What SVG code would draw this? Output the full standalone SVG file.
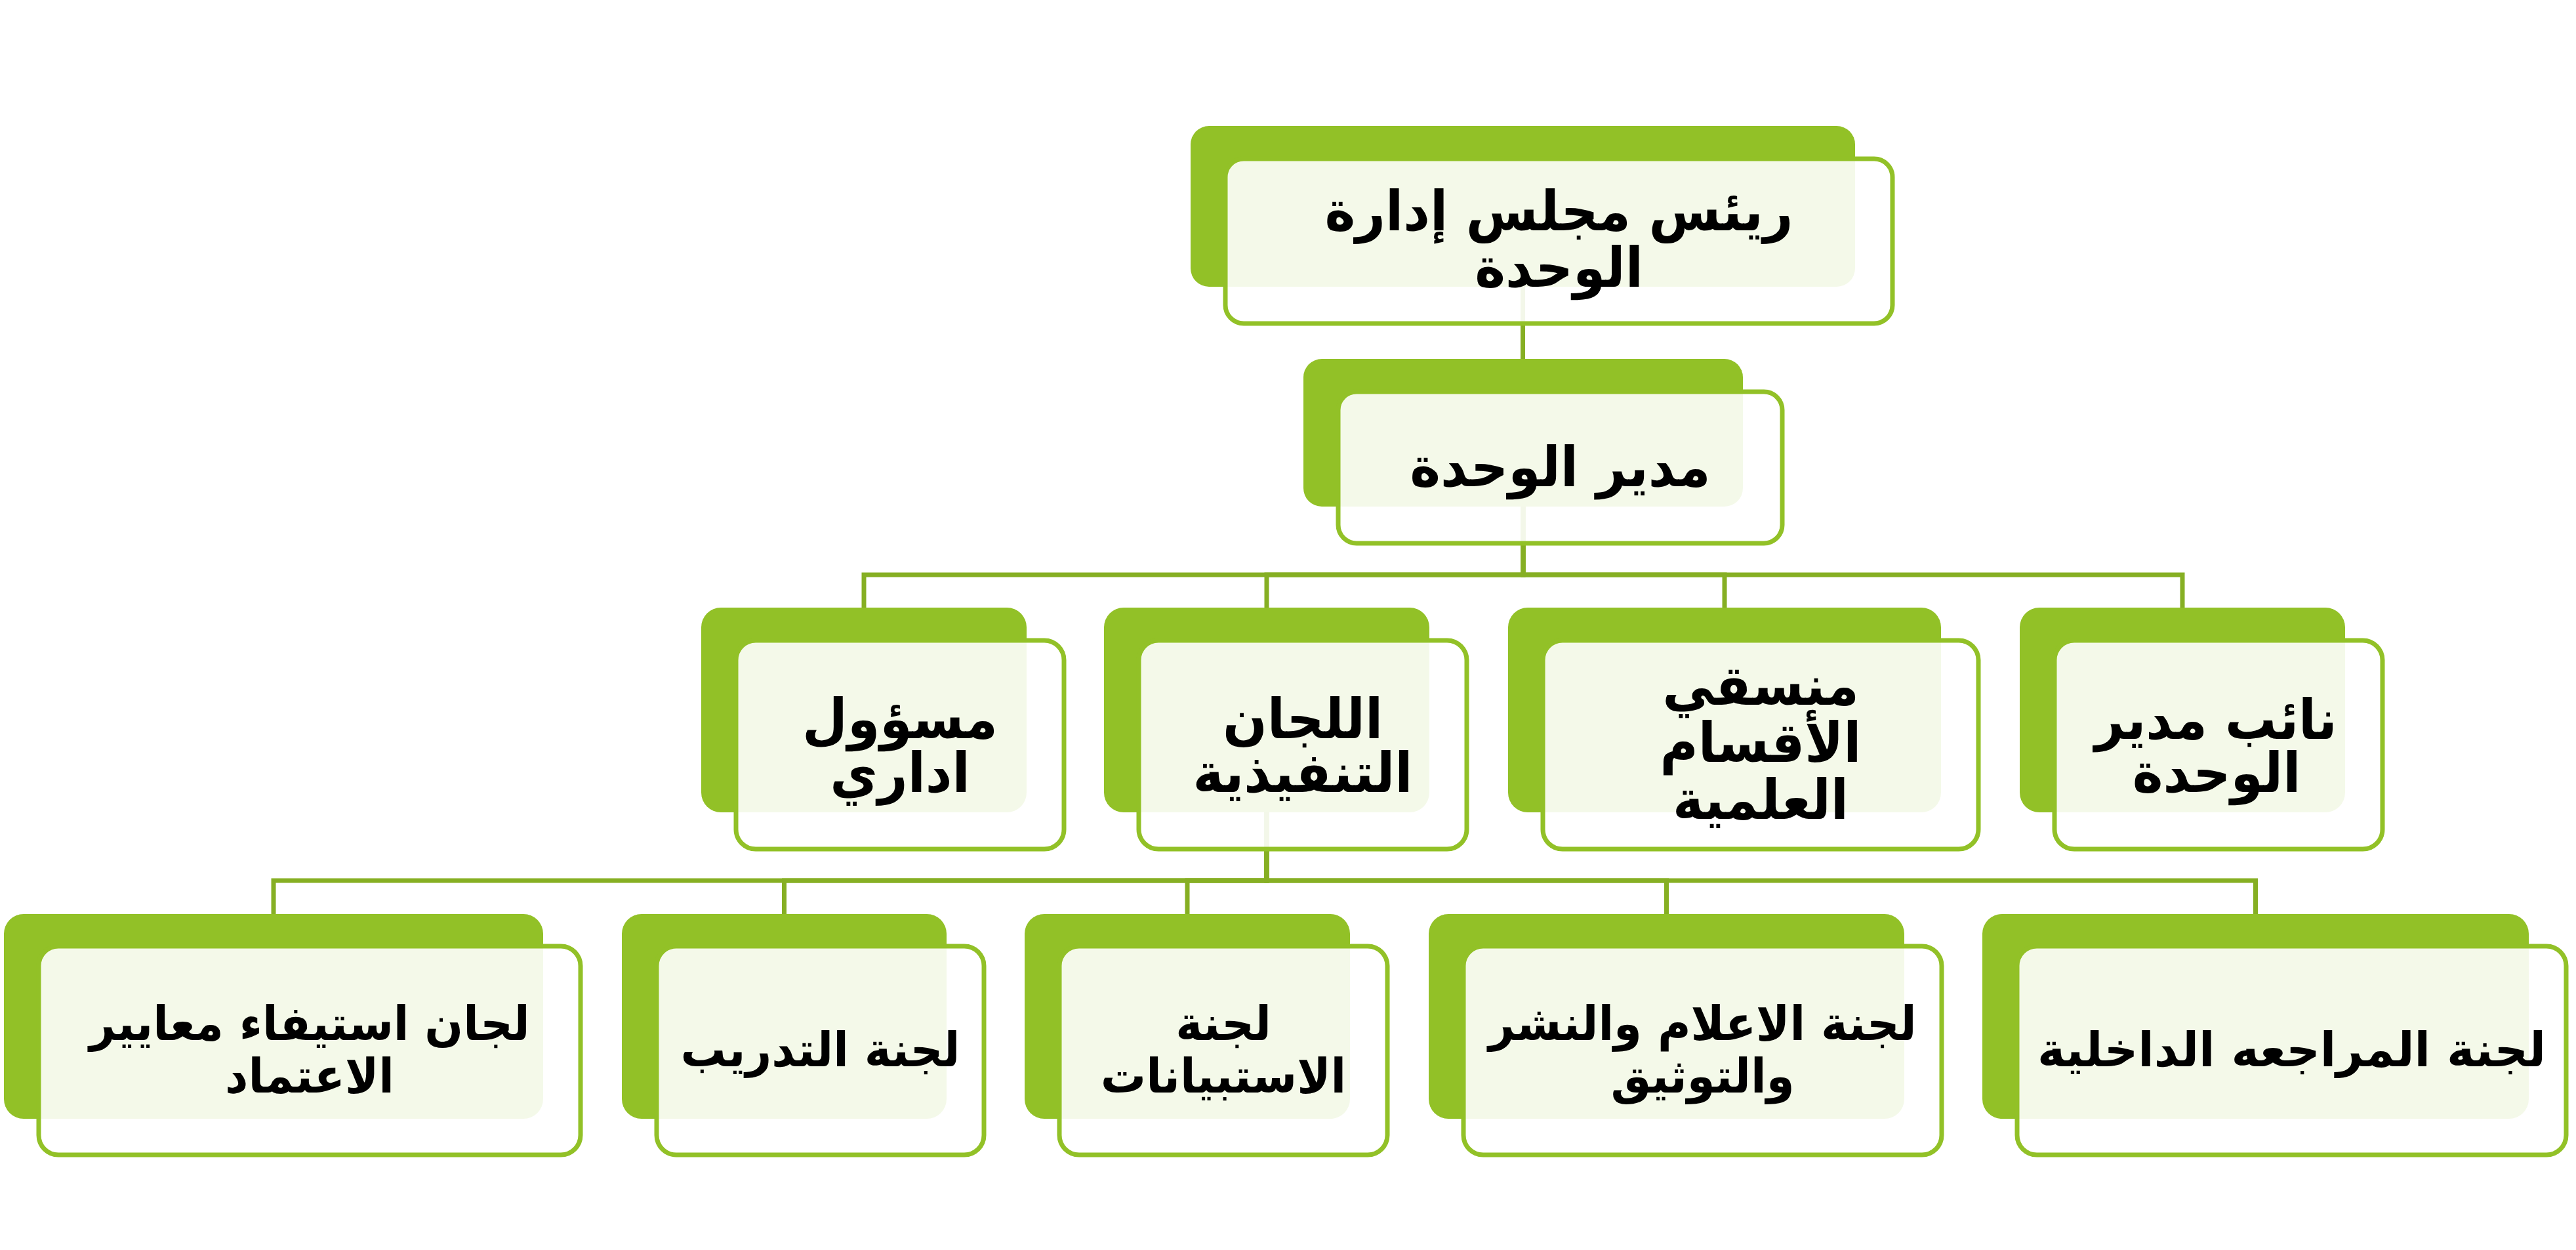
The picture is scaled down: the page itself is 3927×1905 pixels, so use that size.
<svg xmlns="http://www.w3.org/2000/svg" width="3927" height="1905" viewBox="0 0 3927 1905">
<style>
.bg{fill:#ffffff}
.back{fill:#92c127}
.front{fill:#ffffff;fill-opacity:0.9;stroke:#92c127;stroke-width:7}
.conn{fill:none;stroke:#86af23;stroke-width:7}
.t{font-family:"DejaVu Sans","Liberation Sans",sans-serif;font-weight:bold;fill:#000000;text-anchor:middle}
.l1{font-size:84px}
.l4{font-size:73px}
</style>
<rect class="bg" x="0" y="0" width="3927" height="1905"/>
<g id="connectors">
<path class="conn" d="M2321.5 437 V547"/>
<path class="conn" d="M2322 772 V876 H1317 V926"/>
<path class="conn" d="M2322 772 V876 H1931 V926"/>
<path class="conn" d="M2322 772 V876 H2629 V926"/>
<path class="conn" d="M2322 772 V876 H3327 V926"/>
<path class="conn" d="M1931 1238 V1342 H417 V1393"/>
<path class="conn" d="M1931 1238 V1342 H1195.5 V1393"/>
<path class="conn" d="M1931 1238 V1342 H1810 V1393"/>
<path class="conn" d="M1931 1238 V1342 H2540.5 V1393"/>
<path class="conn" d="M1931 1238 V1342 H3438.5 V1393"/>
</g>
<g id="node-chairman">
<rect class="back" x="1815" y="192" width="1013" height="245" rx="28"/>
<rect class="front" x="1868" y="242" width="1017" height="251" rx="28"/>
<g transform="translate(2376.5 0) scale(0.945 1)">
<text class="t l1" direction="rtl" x="0" y="351">ريئس مجلس إدارة</text>
<text class="t l1" direction="rtl" x="0" y="437">الوحدة</text>
</g>
</g>
<g id="node-director">
<rect class="back" x="1987" y="547" width="670" height="225" rx="28"/>
<rect class="front" x="2040" y="597" width="677" height="231" rx="28"/>
<g transform="translate(2378.5 0) scale(0.945 1)">
<text class="t l1" direction="rtl" x="0" y="741">مدير الوحدة</text>
</g>
</g>
<g id="node-admin">
<rect class="back" x="1069" y="926" width="496" height="312" rx="30"/>
<rect class="front" x="1122" y="976" width="500" height="318" rx="30"/>
<g transform="translate(1372 0) scale(0.945 1)">
<text class="t l1" direction="rtl" x="0" y="1125">مسؤول</text>
<text class="t l1" direction="rtl" x="0" y="1207">اداري</text>
</g>
</g>
<g id="node-exec-committees">
<rect class="back" x="1683" y="926" width="496" height="312" rx="30"/>
<rect class="front" x="1736" y="976" width="500" height="318" rx="30"/>
<g transform="translate(1986 0) scale(0.945 1)">
<text class="t l1" direction="rtl" x="0" y="1125">اللجان</text>
<text class="t l1" direction="rtl" x="0" y="1207">التنفيذية</text>
</g>
</g>
<g id="node-coordinators">
<rect class="back" x="2299" y="926" width="660" height="312" rx="30"/>
<rect class="front" x="2352" y="976" width="664" height="318" rx="30"/>
<g transform="translate(2684 0) scale(0.945 1)">
<text class="t l1" direction="rtl" x="0" y="1074">منسقي</text>
<text class="t l1" direction="rtl" x="0" y="1161">الأقسام</text>
<text class="t l1" direction="rtl" x="0" y="1248">العلمية</text>
</g>
</g>
<g id="node-deputy">
<rect class="back" x="3079" y="926" width="496" height="312" rx="30"/>
<rect class="front" x="3132" y="976" width="500" height="318" rx="30"/>
<g transform="translate(3378 0) scale(0.93 1)">
<text class="t l1" direction="rtl" x="0" y="1126">نائب مدير</text>
</g>
<g transform="translate(3379 0) scale(0.945 1)">
<text class="t l1" direction="rtl" x="0" y="1207">الوحدة</text>
</g>
</g>
<g id="node-accreditation">
<rect class="back" x="6" y="1393" width="822" height="312" rx="30"/>
<rect class="front" x="59" y="1442" width="826" height="318" rx="30"/>
<g transform="translate(472 0) scale(0.945 1)">
<text class="t l4" direction="rtl" x="0" y="1585">لجان استيفاء معايير</text>
<text class="t l4" direction="rtl" x="0" y="1665">الاعتماد</text>
</g>
</g>
<g id="node-training">
<rect class="back" x="948" y="1393" width="495" height="312" rx="30"/>
<rect class="front" x="1001" y="1442" width="499" height="318" rx="30"/>
<g transform="translate(1250.5 0) scale(0.945 1)">
<text class="t l4" direction="rtl" x="0" y="1625">لجنة التدريب</text>
</g>
</g>
<g id="node-surveys">
<rect class="back" x="1562" y="1393" width="496" height="312" rx="30"/>
<rect class="front" x="1615" y="1442" width="500" height="318" rx="30"/>
<g transform="translate(1865 0) scale(0.945 1)">
<text class="t l4" direction="rtl" x="0" y="1585">لجنة</text>
<text class="t l4" direction="rtl" x="0" y="1665">الاستبيانات</text>
</g>
</g>
<g id="node-media">
<rect class="back" x="2178" y="1393" width="725" height="312" rx="30"/>
<rect class="front" x="2231" y="1442" width="729" height="318" rx="30"/>
<g transform="translate(2595.5 0) scale(0.945 1)">
<text class="t l4" direction="rtl" x="0" y="1585">لجنة الاعلام والنشر</text>
<text class="t l4" direction="rtl" x="0" y="1665">والتوثيق</text>
</g>
</g>
<g id="node-internal-audit">
<rect class="back" x="3022" y="1393" width="833" height="312" rx="30"/>
<rect class="front" x="3075" y="1442" width="837" height="318" rx="30"/>
<g transform="translate(3493.5 0) scale(0.98 1)">
<text class="t l4" direction="rtl" x="0" y="1625">لجنة المراجعه الداخلية</text>
</g>
</g>
</svg>
